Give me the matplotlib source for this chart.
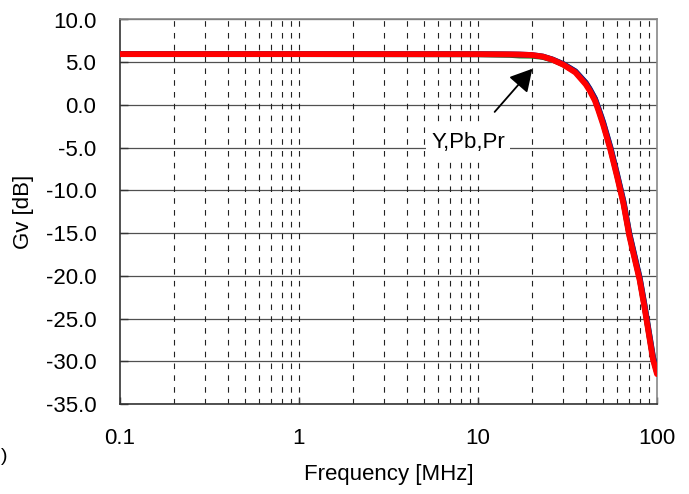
import matplotlib
matplotlib.use("Agg")
import matplotlib.pyplot as plt

plt.rcParams['font.family'] = ['Liberation Sans', 'DejaVu Sans']
plt.rcParams['lines.scale_dashes'] = False

freq = [0.1, 1, 10, 15, 17, 20, 23, 26, 30, 35, 40, 42, 45, 47, 50, 55, 60, 65, 70, 75, 80, 85, 90, 95, 100]
gain_y = [5.95, 5.95, 5.94, 5.92, 5.9, 5.84, 5.66, 5.3, 4.7, 3.8, 2.4, 1.7, 0.5, -0.6, -2.3, -5.3, -8.5, -11.6, -15.3, -18.0, -20.5, -23.6, -26.8, -29.8, -31.5]
gain_pb = [5.95, 5.95, 5.93, 5.86, 5.78, 5.76, 5.62, 5.3, 4.75, 3.9, 2.55, 1.85, 0.7, -0.4, -2.1, -5.1, -8.3, -11.4, -15.1, -17.8, -20.3, -23.4, -26.6, -29.6, -31.3]
gain_pr = [5.95, 5.95, 5.94, 5.92, 5.9, 5.84, 5.67, 5.33, 4.78, 3.93, 2.6, 1.9, 0.75, -0.35, -2.0, -5.0, -8.2, -11.3, -15.0, -17.7, -20.2, -23.3, -26.5, -29.5, -31.2]

yticks = [10, 5, 0, -5, -10, -15, -20, -25, -30, -35]
xticks = [0.1, 1, 10, 100]
xticklabels = ['0.1', '1', '10', '100']

W, H = 689, 494
fig = plt.figure(figsize=(W/100, H/100), dpi=100)
ax = fig.add_axes([120/W, (H-404)/H, 537/W, 384.5/H])

ax.set_xscale('log')
ax.set_xlim(0.1, 100)
ax.set_ylim(-35, 10)

# grid
for y in yticks:
    ax.axhline(y, color='#505050', lw=0.9, zorder=1)
for dec in [0.1, 1, 10]:
    for m in range(1, 10):
        f = dec * m
        if f <= 0.1:
            continue
        ax.axvline(f, color='#222222', lw=0.8, dashes=(4, 4.5), zorder=1)

ax.plot(freq, gain_pb, color='#1a8a1a', lw=4.2, zorder=3, solid_capstyle='round')
ax.plot(freq, gain_pr, color='#1a1a8a', lw=4.2, zorder=3, solid_capstyle='round')
ax.plot(freq, gain_y, color='#ff0000', lw=4.2, zorder=4, solid_capstyle='round')

ax.set_yticks(yticks)
ax.set_yticklabels([f'{v:.1f}' for v in yticks])
ax.set_xticks(xticks)
ax.set_xticklabels(xticklabels)
ax.xaxis.set_minor_locator(matplotlib.ticker.NullLocator())
ax.tick_params(axis='y', direction='in', length=6, width=1, color='#333333', pad=17, labelsize=16)
ax.tick_params(axis='x', direction='in', length=5, width=1, color='#333333', pad=17, labelsize=16)

for s in ['left', 'bottom']:
    ax.spines[s].set_color('#333333')
    ax.spines[s].set_linewidth(1.2)
for s in ['top', 'right']:
    ax.spines[s].set_color('#888888')
    ax.spines[s].set_linewidth(1.2)

ax.set_xlabel('Frequency [MHz]', fontsize=16, labelpad=11)
ax.set_ylabel('Gv [dB]', fontsize=16)
ax.yaxis.set_label_coords(-86/537, 0.5)

ax.annotate('', xy=(20.6, 4.48), xytext=(12.1, -1.06),
            arrowprops=dict(arrowstyle='-|>,head_length=0.45,head_width=0.25', mutation_scale=30,
                            color='black', lw=1.3),
            zorder=6)
ax.text(8.8, -4.34, 'Y,Pb,Pr', fontsize=16, ha='center', va='center', zorder=5,
        bbox=dict(facecolor='white', edgecolor='none', pad=4))

fig.text(0.5/W, 1 - 456/H, ')', fontsize=14, ha='left', va='center')

fig.savefig('out.png', dpi=100)
